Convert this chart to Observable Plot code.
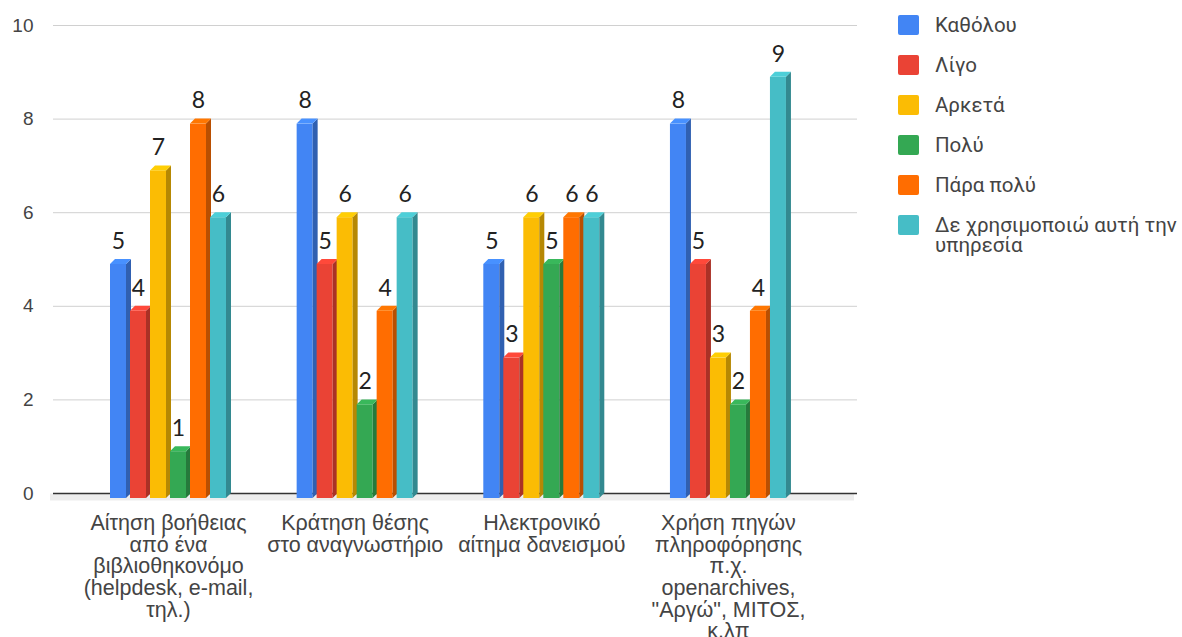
<!DOCTYPE html>
<html>
<head>
<meta charset="utf-8">
<script src="https://cdn.jsdelivr.net/npm/d3@7"></script>
<script src="https://cdn.jsdelivr.net/npm/@observablehq/plot@0.6"></script>
<style>
html, body { margin: 0; padding: 0; background: #fff; }
#wrap { position: relative; width: 1182px; height: 637px; overflow: hidden; }
.side rect { transform-box: fill-box; transform-origin: 0 0; transform: skewY(-45deg); }
.top rect { transform-box: fill-box; transform-origin: 0 100%; transform: skewX(-45deg); }
#legend { position: absolute; left: 898px; top: 15px; font-family: Roboto, "Liberation Sans", sans-serif; font-size: 20.5px; color: #444; }
.row { position: absolute; left: 0; width: 284px; }
.sw { position: absolute; left: 0; top: 0; width: 21px; height: 20px; border-radius: 2px; }
.lb { position: absolute; left: 37px; top: 0; width: 248px; line-height: 20px; }
</style>
</head>
<body>
<div id="wrap"></div>
<script>
// ---- data ----
const categories = [
  "Αίτηση βοήθειας\nαπό ένα\nβιβλιοθηκονόμο\n(helpdesk, e-mail,\nτηλ.)",
  "Κράτηση θέσης\nστο αναγνωστήριο",
  "Ηλεκτρονικό\nαίτημα δανεισμού",
  "Χρήση πηγών\nπληροφόρησης\nπ.χ.\nopenarchives,\n\"Αργώ\", ΜΙΤΟΣ,\nκ.λπ"
];
const series = ["Καθόλου", "Λίγο", "Αρκετά", "Πολύ", "Πάρα πολύ", "Δε χρησιμοποιώ αυτή την υπηρεσία"];
const katholou = [5, 8, 5, 8];
const ligo = [4, 5, 3, 5];
const arketa = [7, 6, 6, 3];
const poly = [1, 2, 5, 2];
const paraPoly = [8, 4, 6, 4];
const deXrisimopoio = [6, 6, 6, 9];
const yTicks = [0, 2, 4, 6, 8, 10];
const colors = ["#4285F4", "#EA4335", "#FBBC04", "#34A853", "#FF6D01", "#46BDC6"];

const values = [katholou, ligo, arketa, poly, paraPoly, deXrisimopoio];
const rows = categories.flatMap((c, ci) => series.map((s, si) => ({category: c, series: s, si, value: values[si][ci]})));

// ---- geometry ----
const W = 1182, H = 637;
const bandStart = 74.7, bandEnd = 821.3;
const bw = (bandEnd - bandStart) / categories.length;
const firstInset = 35.3, pitch = 20, front = 16, depth = 5;

const marks = [
  Plot.ruleY([0], {stroke: "#ededed", strokeWidth: 7, dy: 3.5, dx: -3}),
  Plot.ruleY(yTicks.filter(t => t > 0), {stroke: "#d0d0d0", strokeWidth: 1}),
  Plot.ruleY([0], {stroke: "#333", strokeWidth: 1.5}),
  Plot.axisY({ticks: yTicks, tickSize: 0, tickPadding: 20, fontSize: 19, color: "#444", label: null}),
  Plot.axisX({tickSize: 0, tickPadding: 21, fontSize: 21.5, lineHeight: 1.01, color: "#444", label: null})
];

series.forEach((s, i) => {
  const d = rows.filter(r => r.si === i);
  const L = firstInset + pitch * i;
  const R = bw - L - front;
  const c = d3.color(colors[i]);
  marks.push(
    Plot.barY(d, {x: "category", y: "value", fill: colors[i], insetLeft: L, insetRight: R, dy: depth}),
    Plot.barY(d, {x: "category", y: "value", fill: c.darker(0.9).formatHex(), insetLeft: L + front, insetRight: R - depth, dy: depth, className: "side"}),
    Plot.barY(d, {x: "category", y1: "value", y2: "value", fill: c.brighter(0.25).formatHex(), insetLeft: L, insetRight: R, insetBottom: -depth, className: "top"})
  );
});

series.forEach((s, i) => {
  const d = rows.filter(r => r.si === i);
  marks.push(Plot.text(d, {x: "category", y: "value", text: "value", dx: -50 + pitch * i, dy: -18, fontSize: 23, fontFamily: "Lato, 'Open Sans', sans-serif", fill: "#222"}));
});

const chart = Plot.plot({
  width: W,
  height: H,
  marginLeft: 53,
  marginRight: W - 857,
  marginTop: 25,
  marginBottom: H - 493,
  style: {fontFamily: "'Liberation Sans', Arial, sans-serif", background: "#fff", overflow: "visible"},
  x: {domain: categories, range: [bandStart, bandEnd], padding: 0, round: false, label: null},
  y: {domain: [0, 10], label: null},
  marks
});
document.getElementById("wrap").appendChild(chart);

// ---- legend ----
const legend = document.createElement("div");
legend.id = "legend";
series.forEach((s, i) => {
  const row = document.createElement("div");
  row.className = "row";
  row.style.top = (40 * i) + "px";
  const sw = document.createElement("div");
  sw.className = "sw";
  sw.style.background = colors[i];
  const lb = document.createElement("div");
  lb.className = "lb";
  lb.textContent = s;
  row.appendChild(sw);
  row.appendChild(lb);
  legend.appendChild(row);
});
document.getElementById("wrap").appendChild(legend);
</script>
</body>
</html>
